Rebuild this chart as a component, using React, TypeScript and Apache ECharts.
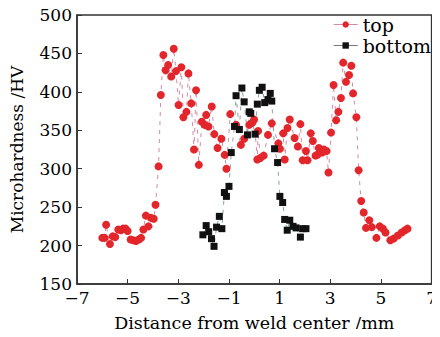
import React, { useEffect, useRef } from "react";
import * as echarts from "echarts";

const topX = [-6.0,-5.91,-5.85,-5.7,-5.59,-5.49,-5.37,-5.27,-5.18,-5.08,-5.0,-4.88,-4.78,-4.67,-4.56,-4.47,-4.38,-4.28,-4.18,-4.08,-3.97,-3.9,-3.78,-3.69,-3.59,-3.5,-3.4,-3.28,-3.18,-3.09,-2.99,-2.88,-2.8,-2.68,-2.6,-2.49,-2.38,-2.3,-2.19,-2.07,-1.96,-1.9,-1.81,-1.68,-1.58,-1.45,-1.3,-1.17,-1.1,-0.95,-0.72,-0.53,-0.4,-0.2,-0.08,-0.01,0.12,0.15,0.24,0.37,0.54,0.69,0.95,1.01,1.14,1.2,1.31,1.4,1.59,1.72,1.82,1.91,2.04,2.1,2.23,2.31,2.42,2.49,2.55,2.68,2.74,2.85,2.93,3.03,3.13,3.23,3.32,3.42,3.51,3.62,3.74,3.83,3.9,4.03,4.12,4.22,4.32,4.41,4.54,4.64,4.82,4.95,5.08,5.18,5.37,5.5,5.67,5.82,5.95,6.05];
const topY = [210,210,227,202,212,211,221,220,222,222,219,208,207,206,208,210,221,239,225,236,235,253,303,396,448,428,435,420,456,427,383,432,367,374,424,385,325,402,305,361,357,370,355,381,345,327,339,318,300,371,357,331,339,357,360,364,312,349,314,317,344,359,333,326,346,312,353,364,340,329,358,311,323,311,346,336,317,318,327,321,325,323,295,347,409,363,374,392,438,413,422,434,398,367,298,258,243,223,233,224,210,225,222,217,207,209,213,217,220,222];

const bottomX = [-2.03,-1.9,-1.8,-1.69,-1.59,-1.49,-1.38,-1.28,-1.18,-1.1,-1.0,-0.91,-0.78,-0.72,-0.59,-0.49,-0.4,-0.27,-0.2,-0.14,0.03,0.12,0.2,0.31,0.41,0.54,0.63,0.69,0.8,0.92,1.01,1.12,1.2,1.3,1.4,1.53,1.65,1.82,1.91,2.04];
const bottomY = [214,226,218,209,199,224,238,222,269,264,277,321,355,395,351,405,387,344,374,372,345,384,402,406,386,390,398,388,326,308,264,256,234,220,233,225,223,211,222,222];

const xTicks = [-7,-5,-3,-1,1,3,5,7];
const seriesNames = ["top", "bottom"];

const FONT = "DejaVu Serif";

export default function App() {
  const ref = useRef<HTMLDivElement>(null);
  useEffect(() => {
    if (!ref.current) return;
    const chart = echarts.init(ref.current, null, { renderer: "svg" });
    const fmt = (v: number) => String(v).replace("-", "\u2212");
    chart.setOption({
      animation: false,
      backgroundColor: "#fff",
      grid: { left: 70, right: 6, top: 15, bottom: 52, show: true, borderColor: "#333", borderWidth: 1.5 },
      legend: {
        orient: "vertical",
        right: 4,
        top: 10,
        itemWidth: 24,
        itemHeight: 8,
        itemGap: 2,
        textStyle: { fontFamily: FONT, fontSize: 19, color: "#000" },
        data: [
          { name: seriesNames[0], lineStyle: { type: "solid", color: "#d48aa6", width: 1 } },
          { name: seriesNames[1], lineStyle: { type: "solid", color: "#777", width: 1 } },
        ],
      },
      xAxis: {
        type: "value",
        min: -7,
        max: 7,
        name: "Distance from weld center /mm",
        nameLocation: "middle",
        nameGap: 30,
        nameTextStyle: { fontFamily: FONT, fontSize: 17.5, color: "#000" },
        axisLine: { onZero: false, lineStyle: { color: "#333", width: 1.5 } },
        axisTick: { inside: true, length: 5, customValues: xTicks, lineStyle: { color: "#333" } },
        axisLabel: { customValues: xTicks, formatter: fmt, fontFamily: FONT, fontSize: 17, color: "#000", margin: 5 },
        splitLine: { show: false },
      },
      yAxis: {
        type: "value",
        min: 150,
        max: 500,
        interval: 50,
        name: "Microhardness /HV",
        nameLocation: "middle",
        nameGap: 52,
        nameTextStyle: { fontFamily: FONT, fontSize: 17, color: "#000" },
        axisLine: { show: true, onZero: false, lineStyle: { color: "#333", width: 1.5 } },
        axisTick: { show: true, inside: true, length: 5, lineStyle: { color: "#333" } },
        axisLabel: { fontFamily: FONT, fontSize: 17, color: "#000", margin: 5 },
        splitLine: { show: false },
      },
      series: [
        {
          name: seriesNames[0],
          type: "line",
          data: topX.map((x, i) => [x, topY[i]]),
          symbol: "circle",
          symbolSize: 8,
          itemStyle: { color: "#e3262b" },
          lineStyle: { color: "#d48aa6", width: 1, type: [4, 5] },
        },
        {
          name: seriesNames[1],
          type: "line",
          data: bottomX.map((x, i) => [x, bottomY[i]]),
          symbol: "rect",
          symbolSize: 7,
          itemStyle: { color: "#111" },
          lineStyle: { color: "#8aa3a3", width: 1, type: [4, 5] },
        },
      ],
    });
    return () => chart.dispose();
  }, []);
  return <div ref={ref} style={{ width: 440, height: 337, margin: -8 }} />;
}
